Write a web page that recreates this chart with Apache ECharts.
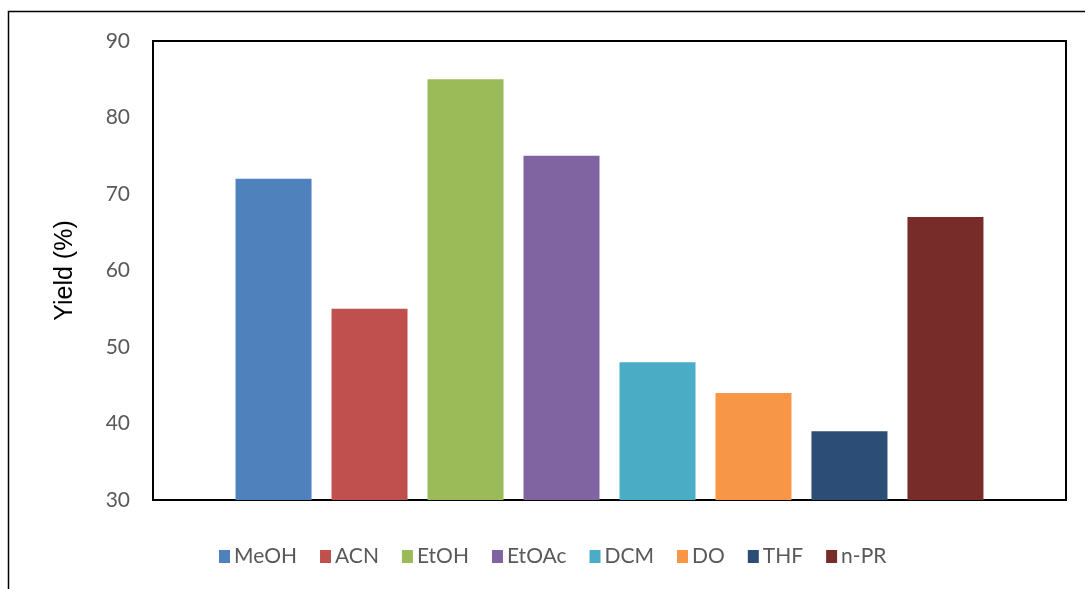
<!DOCTYPE html>
<html>
<head>
<meta charset="utf-8">
<script src="https://cdn.jsdelivr.net/npm/echarts@6/dist/echarts.min.js"></script>
<style>
  html, body { margin: 0; padding: 0; background: #fff; }
  #chart { width: 1085px; height: 589px; }
</style>
</head>
<body>
<div id="chart"></div>
<script>
// Solvent screening: yield per solvent
const solvents = ['MeOH', 'ACN', 'EtOH', 'EtOAc', 'DCM', 'DO', 'THF', 'n-PR'];
const yields = [72, 55, 85, 75, 48, 44, 39, 67];
const colors = ['#4f81bd', '#c0504d', '#9bbb59', '#8064a2', '#4bacc6', '#f79646', '#2c4d75', '#772c2a'];
const yTicks = { min: 30, max: 90, interval: 10 };

const font = 'Lato, "Open Sans", "Liberation Sans", sans-serif';

const series = solvents.map((name, i) => ({
  name: name,
  type: 'bar',
  data: [yields[i]],
  barWidth: 76,
  barGap: '26.3%',
  itemStyle: { color: colors[i] },
  z: 3
}));

const chart = echarts.init(document.getElementById('chart'));
chart.setOption({
  backgroundColor: '#fff',
  animation: false,
  color: colors,
  grid: {
    left: 153, right: 19, top: 41, bottom: 89,
    show: true, borderColor: '#000', borderWidth: 2,
    containLabel: false
  },
  legend: {
    data: solvents,
    left: 214,
    top: 541,
    itemWidth: 11,
    itemHeight: 13,
    itemGap: 23,
    icon: 'rect',
    textStyle: { fontFamily: font, fontSize: 21, color: '#595959', padding: [0, 0, 0, -1] }
  },
  xAxis: {
    type: 'category',
    data: ['Yield'],
    axisLine: { show: true, lineStyle: { color: '#000', width: 2 } },
    axisTick: { show: false },
    axisLabel: { show: false },
    splitLine: { show: false }
  },
  yAxis: {
    type: 'value',
    min: yTicks.min,
    max: yTicks.max,
    interval: yTicks.interval,
    name: 'Yield (%)',
    nameLocation: 'middle',
    nameGap: 75,
    nameTextStyle: { fontFamily: '"Liberation Sans", Arial, sans-serif', fontSize: 25, color: '#000' },
    axisLine: { show: true, lineStyle: { color: '#000', width: 2 } },
    axisTick: { show: false },
    axisLabel: { fontFamily: font, fontSize: 21, color: '#595959', margin: 23 },
    splitLine: { show: false }
  },
  graphic: [
    {
      type: 'polyline',
      silent: true,
      shape: { points: [[8.5, 589], [8.5, 11.5], [1085, 11.5]] },
      style: { stroke: '#000', lineWidth: 1.5, fill: null }
    }
  ],
  series: series
});
</script>
</body>
</html>
